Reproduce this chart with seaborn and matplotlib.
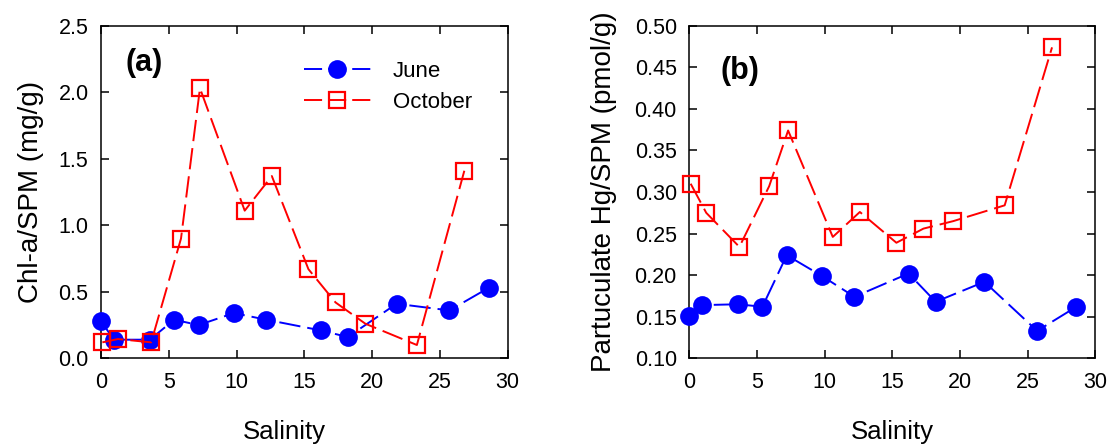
import matplotlib
matplotlib.use("Agg")
import matplotlib.pyplot as plt
import seaborn as sns
import numpy as np
from matplotlib.lines import Line2D

# ---- data ----
june_sal = [0.0, 0.95, 3.6, 5.4, 7.2, 9.8, 12.2, 16.2, 18.2, 21.8, 25.7, 28.6]
oct_sal = [0.1, 1.25, 3.7, 5.9, 7.3, 10.6, 12.6, 15.3, 17.3, 19.5, 23.3, 26.8]

june_chl = [0.28, 0.14, 0.14, 0.29, 0.25, 0.34, 0.29, 0.21, 0.16, 0.41, 0.36, 0.53]
oct_chl = [0.12, 0.145, 0.12, 0.90, 2.03, 1.11, 1.37, 0.67, 0.42, 0.26, 0.10, 1.41]

june_hg = [0.151, 0.164, 0.165, 0.162, 0.224, 0.199, 0.174, 0.202, 0.168, 0.192, 0.133, 0.162]
oct_hg = [0.310, 0.275, 0.234, 0.307, 0.374, 0.246, 0.276, 0.239, 0.256, 0.265, 0.284, 0.474]

xticks = [0, 5, 10, 15, 20, 25, 30]
yticks_a = [0.0, 0.5, 1.0, 1.5, 2.0, 2.5]
yticks_b = [0.10, 0.15, 0.20, 0.25, 0.30, 0.35, 0.40, 0.45, 0.50]

sns.set_style("ticks")
plt.rcParams['font.family'] = ['Liberation Sans', 'DejaVu Sans']
plt.rcParams['text.color'] = 'black'
plt.rcParams['axes.labelcolor'] = 'black'
plt.rcParams['xtick.color'] = 'black'
plt.rcParams['ytick.color'] = 'black'
plt.rcParams['axes.edgecolor'] = 'black'

fig = plt.figure(figsize=(11.1, 4.46), dpi=100)
axA = fig.add_axes([0.0910, 0.1966, 0.3664, 0.7457])
axB = fig.add_axes([0.6210, 0.1966, 0.3658, 0.7457])

dash = (0, (11, 3.6))
june_kw = dict(color='#0000ff', marker='o', markersize=13.5, markeredgewidth=0,
               linewidth=1.4, linestyle=dash)
oct_kw = dict(color='#ff0000', marker='s', markersize=11, markerfacecolor='none',
              markeredgecolor='#ff0000', markeredgewidth=1.6, linewidth=1.4, linestyle=dash)

for ax, jy, oy, yt, ylab in [(axA, june_chl, oct_chl, yticks_a, 'Chl-a/SPM (mg/g)'),
                             (axB, june_hg, oct_hg, yticks_b, 'Partuculate Hg/SPM (pmol/g)')]:
    sns.lineplot(x=june_sal, y=jy, ax=ax, sort=False, clip_on=False, zorder=3, **june_kw)
    sns.lineplot(x=oct_sal, y=oy, ax=ax, sort=False, clip_on=False, zorder=4, **oct_kw)
    ax.set_xlim(0, 30)
    ax.set_ylim(yt[0], yt[-1])
    ax.set_xticks(xticks)
    ax.set_yticks(yt)
    if ax is axA:
        ax.set_yticklabels([f"{v:.1f}" for v in yt])
    else:
        ax.set_yticklabels([f"{v:.2f}" for v in yt])
    ax.tick_params(direction='in', length=6, width=1.1, top=True, right=True,
                   labelsize=15.5, colors='black')
    ax.tick_params(axis='x', pad=10)
    ax.tick_params(axis='y', pad=9)
    for s in ax.spines.values():
        s.set_linewidth(1.1)
        s.set_color('black')
    ax.set_xlabel('Salinity', fontsize=18.5)
    ax.set_ylabel(ylab, fontsize=20, labelpad=10 if ax is axA else 13)

axA.xaxis.set_label_coords(0.45, -0.185)
axB.xaxis.set_label_coords(0.5, -0.185)

axA.text(0.061, 0.888, '(a)', transform=axA.transAxes, fontsize=22, fontweight='bold',
         ha='left', va='center')
axB.text(0.078, 0.864, '(b)', transform=axB.transAxes, fontsize=22, fontweight='bold',
         ha='left', va='center')

leg_dash = (0, (9.3, 3.1))
handles = [Line2D([], [], **{**june_kw, 'linestyle': leg_dash}),
           Line2D([], [], **{**oct_kw, 'linestyle': leg_dash})]
axA.legend(handles, ['June', 'October'], frameon=False, fontsize=16,
           loc='upper left', bbox_to_anchor=(0.45, 0.955), handlelength=3.0,
           handletextpad=1.0, labelspacing=0.45)

fig.savefig('out.png', dpi=100)
